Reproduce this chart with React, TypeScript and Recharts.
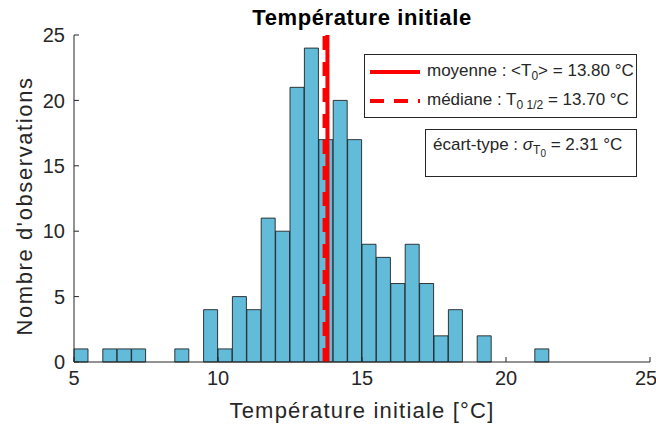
import React from 'react';
import { ComposedChart, Bar, XAxis, YAxis, ReferenceLine } from 'recharts';

// histogram bins (0.5 °C wide, start of bin) and counts
const binStarts = [
  5, 5.5, 6, 6.5, 7, 7.5, 8, 8.5, 9, 9.5,
  10, 10.5, 11, 11.5, 12, 12.5, 13, 13.5, 14, 14.5,
  15, 15.5, 16, 16.5, 17, 17.5, 18, 18.5, 19, 19.5,
  20, 20.5, 21, 21.5, 22, 22.5, 23, 23.5, 24, 24.5,
];
const counts = [
  1, 0, 1, 1, 1, 0, 0, 1, 0, 4,
  1, 5, 4, 11, 10, 21, 24, 17, 20, 17,
  9, 8, 6, 9, 6, 2, 4, 0, 2, 0,
  0, 0, 1, 0, 0, 0, 0, 0, 0, 0,
];
const xTicks = [5, 10, 15, 20, 25];
const yTicks = [0, 5, 10, 15, 20, 25];
const meanT0 = 13.8;
const medianT0 = 13.7;
const stdT0 = 2.31;

const rows = binStarts.map((b, i) => ({ bin: b, count: counts[i] || null }));

const FONT = '"Liberation Sans", Arial, Helvetica, sans-serif';
const AXIS = '#262626';

const App: React.FC = () => {
  return (
    <div style={{ position: 'absolute', left: 0, top: 0, width: 656, height: 428, fontFamily: FONT, background: '#fff' }}>
      <ComposedChart
        width={656}
        height={428}
        data={rows}
        margin={{ top: 35, right: 6, bottom: 0, left: 0 }}
        barCategoryGap={0}
        barGap={0}
      >
        <XAxis xAxisId="temp" dataKey="bin" type="number" domain={[5, 25]} ticks={xTicks} allowDataOverflow
          height={66}
          stroke={AXIS}
          tickSize={-5}
          tickMargin={14}
          tick={{ fill: AXIS, fontSize: 20, fontFamily: FONT }}
          label={{
            content: (props: any) => {
              const vb = props.viewBox;
              return (
                <text x={vb.x + vb.width / 2} y={410} textAnchor="middle" dominantBaseline="central" fill={AXIS} fontSize={22} letterSpacing={1.2} fontFamily={FONT}>
                  Température initiale [°C]
                </text>
              );
            },
          }}
        />
        <XAxis xAxisId="bins" dataKey="bin" type="category" hide height={0} />
        <YAxis
          width={74}
          type="number"
          domain={[0, 25]}
          ticks={yTicks}
          stroke={AXIS}
          tickSize={-5}
          tickMargin={14}
          tick={{ fill: AXIS, fontSize: 20, fontFamily: FONT }}
          label={{
            content: (props: any) => {
              const vb = props.viewBox;
              const cy = 206;
              return (
                <text x={24} y={cy} transform={`rotate(-90 24 ${cy})`} textAnchor="middle" dominantBaseline="central" fill={AXIS} fontSize={22} letterSpacing={1.6} fontFamily={FONT}>
                  Nombre d'observations
                </text>
              );
            },
          }}
        />
        <Bar
          xAxisId="bins"
          dataKey="count"
          fill="#62BCD9"
          stroke="#1a1a1a"
          strokeOpacity={0.85}
          strokeWidth={1}
          isAnimationActive={false}
        />
        <ReferenceLine xAxisId="temp" x={meanT0} stroke="#ff0000" strokeWidth={4} />
        <ReferenceLine xAxisId="temp" x={medianT0} stroke="#ff0000" strokeWidth={4} strokeDasharray="14 12" />
      </ComposedChart>

      {/* titre */}
      <div style={{ position: 'absolute', left: 0, width: 724, top: 5, textAlign: 'center', fontWeight: 'bold', fontSize: 22, letterSpacing: 0.6, color: '#000' }}>
        Température initiale
      </div>

      {/* légende */}
      <div style={{ position: 'absolute', left: 364, top: 54, width: 271, height: 62, border: `1px solid ${AXIS}`, background: '#fff', fontSize: 17, color: AXIS }}>
        <div style={{ position: 'absolute', left: 4, top: 6, display: 'flex', alignItems: 'center', whiteSpace: 'nowrap' }}>
          <svg width={52} height={10}><line x1={1} y1={5} x2={51} y2={5} stroke="#ff0000" strokeWidth={4} /></svg>
          <span style={{ marginLeft: 6 }}>moyenne : &lt;T<sub style={{ fontSize: 12 }}>0</sub>&gt; = {meanT0.toFixed(2)} °C</span>
        </div>
        <div style={{ position: 'absolute', left: 4, top: 35, display: 'flex', alignItems: 'center', whiteSpace: 'nowrap' }}>
          <svg width={52} height={10}><line x1={1} y1={5} x2={51} y2={5} stroke="#ff0000" strokeWidth={4} strokeDasharray="14 10" /></svg>
          <span style={{ marginLeft: 6 }}>médiane : T<sub style={{ fontSize: 12 }}>0 1/2</sub> = {medianT0.toFixed(2)} °C</span>
        </div>
      </div>
      <div style={{ position: 'absolute', left: 425, top: 129, width: 210, height: 46, border: `1px solid ${AXIS}`, background: '#fff', fontSize: 17, color: AXIS }}>
        <div style={{ position: 'absolute', left: 7, top: 5, whiteSpace: 'nowrap' }}>
          écart-type : <i>σ</i><sub style={{ fontSize: 12 }}>T<sub style={{ fontSize: 10 }}>0</sub></sub> = {stdT0.toFixed(2)} °C
        </div>
      </div>
    </div>
  );
};

export default App;
